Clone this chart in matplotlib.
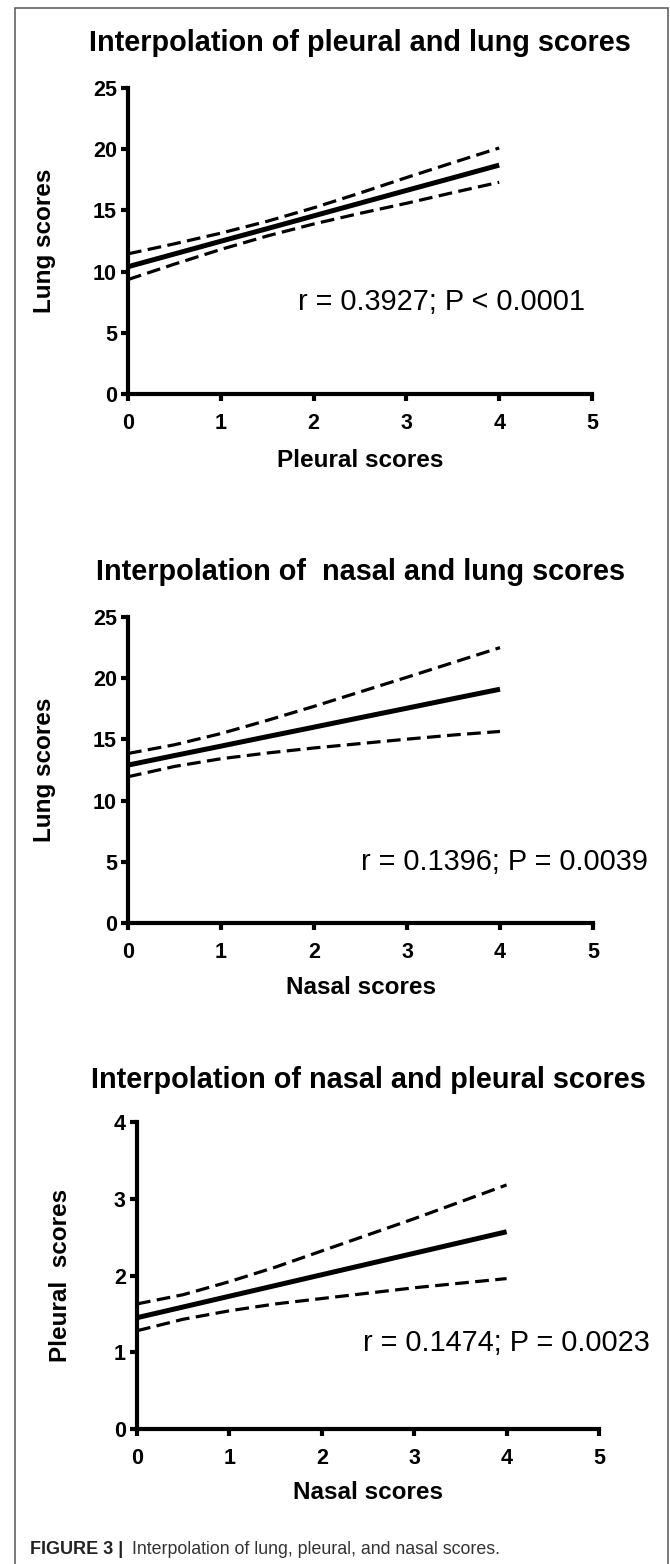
import matplotlib as mpl
mpl.use('Agg')

import matplotlib.pyplot as plt

plt.rcParams['font.family'] = ['Liberation Sans', 'DejaVu Sans']

x_pts = [0, 0.5, 1, 1.5, 2, 2.5, 3, 3.5, 4]

# pleural vs lung
pl_fit = [10.4, 11.44, 12.48, 13.51, 14.55, 15.59, 16.63, 17.66, 18.7]
pl_hi = [11.45, 12.27, 13.14, 14.11, 15.21, 16.42, 17.68, 18.9, 20.1]
pl_lo = [9.35, 10.61, 11.81, 12.91, 13.89, 14.76, 15.58, 16.45, 17.3]

# nasal vs lung
nl_fit = [12.9, 13.68, 14.45, 15.23, 16.0, 16.78, 17.55, 18.33, 19.1]
nl_hi = [13.85, 14.56, 15.48, 16.56, 17.7, 18.89, 20.08, 21.29, 22.5]
nl_lo = [11.95, 12.79, 13.42, 13.89, 14.3, 14.66, 15.02, 15.36, 15.65]

# nasal vs pleural
np_fit = [1.45, 1.59, 1.73, 1.87, 2.01, 2.15, 2.29, 2.43, 2.57]
np_hi = [1.63, 1.75, 1.92, 2.11, 2.32, 2.53, 2.74, 2.96, 3.18]
np_lo = [1.28, 1.43, 1.54, 1.63, 1.7, 1.77, 1.84, 1.9, 1.96]

titles = ["Interpolation of pleural and lung scores",
          "Interpolation of  nasal and lung scores",
          "Interpolation of nasal and pleural scores"]
xlabels = ["Pleural scores", "Nasal scores", "Nasal scores"]
ylabels = ["Lung scores", "Lung scores", "Pleural  scores"]
notes = ["r = 0.3927; P < 0.0001",
         "r = 0.1396; P = 0.0039",
         "r = 0.1474; P = 0.0023"]
x_ticks = [0, 1, 2, 3, 4, 5]
y_ticks = [[0, 5, 10, 15, 20, 25], [0, 5, 10, 15, 20, 25], [0, 1, 2, 3, 4]]

W, H = 670, 1564
fig = plt.figure(figsize=(W / 100, H / 100), dpi=100)

# outer frame of the figure page
fig.add_artist(plt.Rectangle((15 / W, -0.01), (668 - 15) / W, 1 - 8 / H + 0.01,
                             transform=fig.transFigure, fill=False,
                             ec='#555555', lw=1.1))

# panel pixel boxes: left, top, right, bottom
boxes = [(128, 88, 592, 394), (128, 617, 593, 923), (137, 1122, 599, 1429)]
note_xy = [(3.38, 7.5), (4.05, 5.0), (4.0, 1.12)]
title_y = [1.147, 1.147, 1.137]
ylab_x = [-0.179, -0.179, -0.165]
xlab_y = [-0.216, -0.212, -0.208]
series = [(pl_fit, pl_hi, pl_lo), (nl_fit, nl_hi, nl_lo), (np_fit, np_hi, np_lo)]

for i in range(3):
    l, t, r, b = boxes[i]
    ax = fig.add_axes([l / W, 1 - b / H, (r - l) / W, (b - t) / H])
    fit, hi, lo = series[i]
    ax.plot(x_pts, fit, color='black', lw=3.6, solid_capstyle='butt', clip_on=False)
    for band in (hi, lo):
        ln, = ax.plot(x_pts, band, color='black', lw=2.3, clip_on=False)
        ln.set_dashes((4.3, 2.0))
    ax.set_xlim(0, 5)
    ax.set_ylim(0, y_ticks[i][-1])
    ax.set_xticks(x_ticks)
    ax.set_yticks(y_ticks[i])
    for s in ['top', 'right']:
        ax.spines[s].set_visible(False)
    for s in ['left', 'bottom']:
        ax.spines[s].set_linewidth(3.0)
    ax.tick_params(axis='both', width=3.0, length=5, labelsize=15.5)
    ax.tick_params(axis='y', pad=3)
    ax.tick_params(axis='x', pad=9)
    for lab in ax.get_xticklabels() + ax.get_yticklabels():
        lab.set_fontweight('bold')
    ax.set_xlabel(xlabels[i], fontsize=17.5, fontweight='bold')
    ax.set_ylabel(ylabels[i], fontsize=17.5, fontweight='bold')
    ax.xaxis.set_label_coords(0.5, xlab_y[i])
    ax.yaxis.set_label_coords(ylab_x[i], 0.5)
    ax.xaxis.label.set_va('center')
    ax.yaxis.label.set_va('center')
    ax.text(0.5, title_y[i], titles[i], transform=ax.transAxes, ha='center',
            va='center', fontsize=20.8, fontweight='bold')
    ax.text(note_xy[i][0], note_xy[i][1], notes[i], ha='center', va='center',
            fontsize=20.8)

fig.text(30 / W, 1 - 1550 / H, "FIGURE 3 |", fontsize=13,
         fontweight='bold', color='#222222', va='center')
fig.text(132 / W, 1 - 1550 / H, "Interpolation of lung, pleural, and nasal scores.",
         fontsize=12.75, color='#333333', va='center')

plt.savefig("out.png", dpi=100)
